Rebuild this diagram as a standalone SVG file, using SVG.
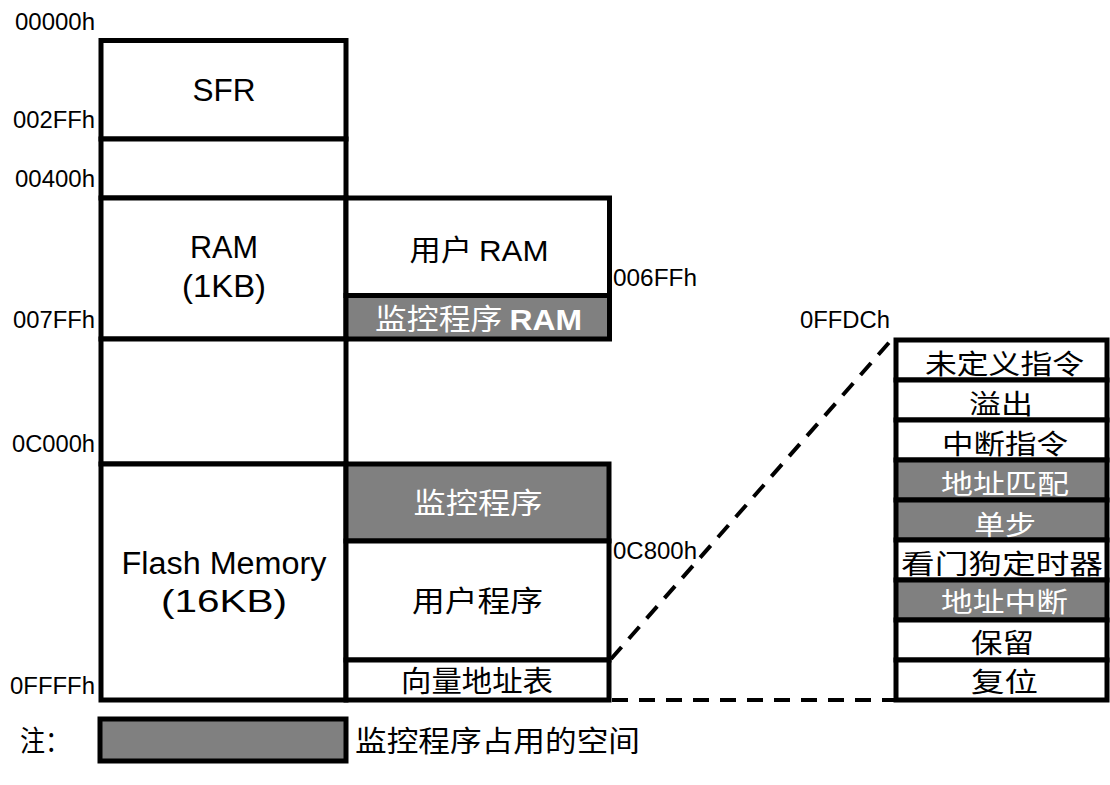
<svg xmlns="http://www.w3.org/2000/svg" width="1110" height="785" viewBox="0 0 1110 785">
<style>
.box{fill:#fff;stroke:#000;stroke-width:5}
.grey{fill:#808080;stroke:#000;stroke-width:5}
.addr{font-family:"Liberation Sans",Arial,sans-serif;font-size:23px;fill:#000}
.lbl{font-family:"Liberation Sans",Arial,sans-serif;font-size:31px;fill:#000;text-anchor:middle}
.cn{font-family:"Noto Sans CJK SC","Liberation Sans",sans-serif;font-size:29px;fill:#000;text-anchor:middle}
.cnl{font-family:"Noto Sans CJK SC",sans-serif;font-size:29px;fill:#000;text-anchor:start}
.tb{font-family:"Noto Sans CJK SC",sans-serif;font-size:27px;fill:#000;text-anchor:middle}
.w{fill:#fff}
.dash{fill:none;stroke:#000;stroke-width:4;stroke-dasharray:16 11}
</style>
<rect width="1110" height="785" fill="#fff"/>

<g id="sfr">
<rect class="box" x="101" y="40.5" width="245" height="98.5"/>
<text class="lbl" x="224" y="101" textLength="63" lengthAdjust="spacingAndGlyphs">SFR</text>
</g>
<g id="reserved1">
<rect class="box" x="101" y="139" width="245" height="59"/>
</g>
<g id="ram">
<rect class="box" x="101" y="198" width="245" height="141"/>
<text class="lbl" x="224" y="258" textLength="68" lengthAdjust="spacingAndGlyphs">RAM</text>
<text class="lbl" x="224" y="297" textLength="84" lengthAdjust="spacingAndGlyphs">(1KB)</text>
</g>
<g id="user-ram">
<rect class="box" x="346" y="198" width="263.5" height="97.5"/>
<text class="cn" x="479" y="261" font-size="30" textLength="139" lengthAdjust="spacingAndGlyphs">用户 <tspan font-family="Liberation Sans,Arial,sans-serif">RAM</tspan></text>
</g>
<g id="monitor-ram">
<rect class="grey" x="346" y="295.5" width="263.5" height="43.5"/>
<text class="cn w" x="478.5" y="330" font-size="30" textLength="207" lengthAdjust="spacingAndGlyphs">监控程序 <tspan font-family="Liberation Sans,Arial,sans-serif" font-weight="bold">RAM</tspan></text>
</g>
<g id="reserved2">
<rect class="box" x="101" y="339" width="245" height="125"/>
</g>
<g id="flash">
<rect class="box" x="101" y="464" width="245" height="236"/>
<text class="lbl" x="224" y="574" textLength="205" lengthAdjust="spacingAndGlyphs">Flash Memory</text>
<text class="lbl" x="224" y="612" textLength="126" lengthAdjust="spacingAndGlyphs">(16KB)</text>
</g>
<g id="monitor-prog">
<rect class="grey" x="346" y="464" width="263" height="77"/>
<text class="cn w" x="478" y="514" textLength="129" lengthAdjust="spacingAndGlyphs">监控程序</text>
</g>
<g id="user-prog">
<rect class="box" x="346" y="541" width="263" height="119"/>
<text class="cn" x="477.5" y="612" textLength="131" lengthAdjust="spacingAndGlyphs">用户程序</text>
</g>
<g id="vector-table">
<rect class="box" x="346" y="660" width="263" height="40"/>
<text class="cn" x="477" y="692" font-size="28" textLength="152" lengthAdjust="spacingAndGlyphs">向量地址表</text>
</g>

<g id="addresses">
<text class="addr" x="95" y="30" text-anchor="end" textLength="80" lengthAdjust="spacingAndGlyphs">00000h</text>
<text class="addr" x="95" y="128" text-anchor="end" textLength="82" lengthAdjust="spacingAndGlyphs">002FFh</text>
<text class="addr" x="95" y="187" text-anchor="end" textLength="80" lengthAdjust="spacingAndGlyphs">00400h</text>
<text class="addr" x="95" y="328" text-anchor="end" textLength="82" lengthAdjust="spacingAndGlyphs">007FFh</text>
<text class="addr" x="95" y="452" text-anchor="end" textLength="83" lengthAdjust="spacingAndGlyphs">0C000h</text>
<text class="addr" x="95" y="694" text-anchor="end" textLength="85" lengthAdjust="spacingAndGlyphs">0FFFFh</text>
<text class="addr" x="613" y="286" textLength="84" lengthAdjust="spacingAndGlyphs">006FFh</text>
<text class="addr" x="613" y="559" textLength="84" lengthAdjust="spacingAndGlyphs">0C800h</text>
<text class="addr" x="800" y="328" textLength="90" lengthAdjust="spacingAndGlyphs">0FFDCh</text>
</g>

<g id="vector-detail">
<g id="v-undef"><rect class="box" x="896" y="340" width="211" height="40"/><text class="tb" x="1004.5" y="374" textLength="159" lengthAdjust="spacingAndGlyphs">未定义指令</text></g>
<g id="v-overflow"><rect class="box" x="896" y="380" width="211" height="40"/><text class="tb" x="1001" y="414" textLength="64" lengthAdjust="spacingAndGlyphs">溢出</text></g>
<g id="v-brk"><rect class="box" x="896" y="420" width="211" height="40"/><text class="tb" x="1005" y="454" textLength="126" lengthAdjust="spacingAndGlyphs">中断指令</text></g>
<g id="v-addrmatch"><rect class="grey" x="896" y="460" width="211" height="40"/><text class="tb w" x="1005" y="494" textLength="128" lengthAdjust="spacingAndGlyphs">地址匹配</text></g>
<g id="v-step"><rect class="grey" x="896" y="500" width="211" height="40"/><text class="tb w" x="1005" y="535" textLength="62" lengthAdjust="spacingAndGlyphs">单步</text></g>
<g id="v-wdt"><rect class="box" x="896" y="540" width="211" height="40"/><text class="tb" x="1002" y="574" textLength="202" lengthAdjust="spacingAndGlyphs">看门狗定时器</text></g>
<g id="v-addrbrk"><rect class="grey" x="896" y="580" width="211" height="40"/><text class="tb w" x="1004.5" y="612" textLength="127" lengthAdjust="spacingAndGlyphs">地址中断</text></g>
<g id="v-reserved"><rect class="box" x="896" y="620" width="211" height="40"/><text class="tb" x="1002.5" y="653" textLength="63" lengthAdjust="spacingAndGlyphs">保留</text></g>
<g id="v-reset"><rect class="box" x="896" y="660" width="211" height="40"/><text class="tb" x="1004.5" y="692" textLength="67" lengthAdjust="spacingAndGlyphs">复位</text></g>
</g>

<g id="connectors">
<line class="dash" x1="611" y1="659" x2="893" y2="338"/>
<line class="dash" x1="612" y1="700" x2="894" y2="700"/>
</g>

<g id="legend">
<text class="cnl" x="20" y="752" font-size="28" textLength="50" lengthAdjust="spacingAndGlyphs">注：</text>
<rect class="grey" x="100" y="719" width="246" height="42"/>
<text class="cnl" x="355" y="752" font-size="30" textLength="285" lengthAdjust="spacingAndGlyphs">监控程序占用的空间</text>
</g>
</svg>
